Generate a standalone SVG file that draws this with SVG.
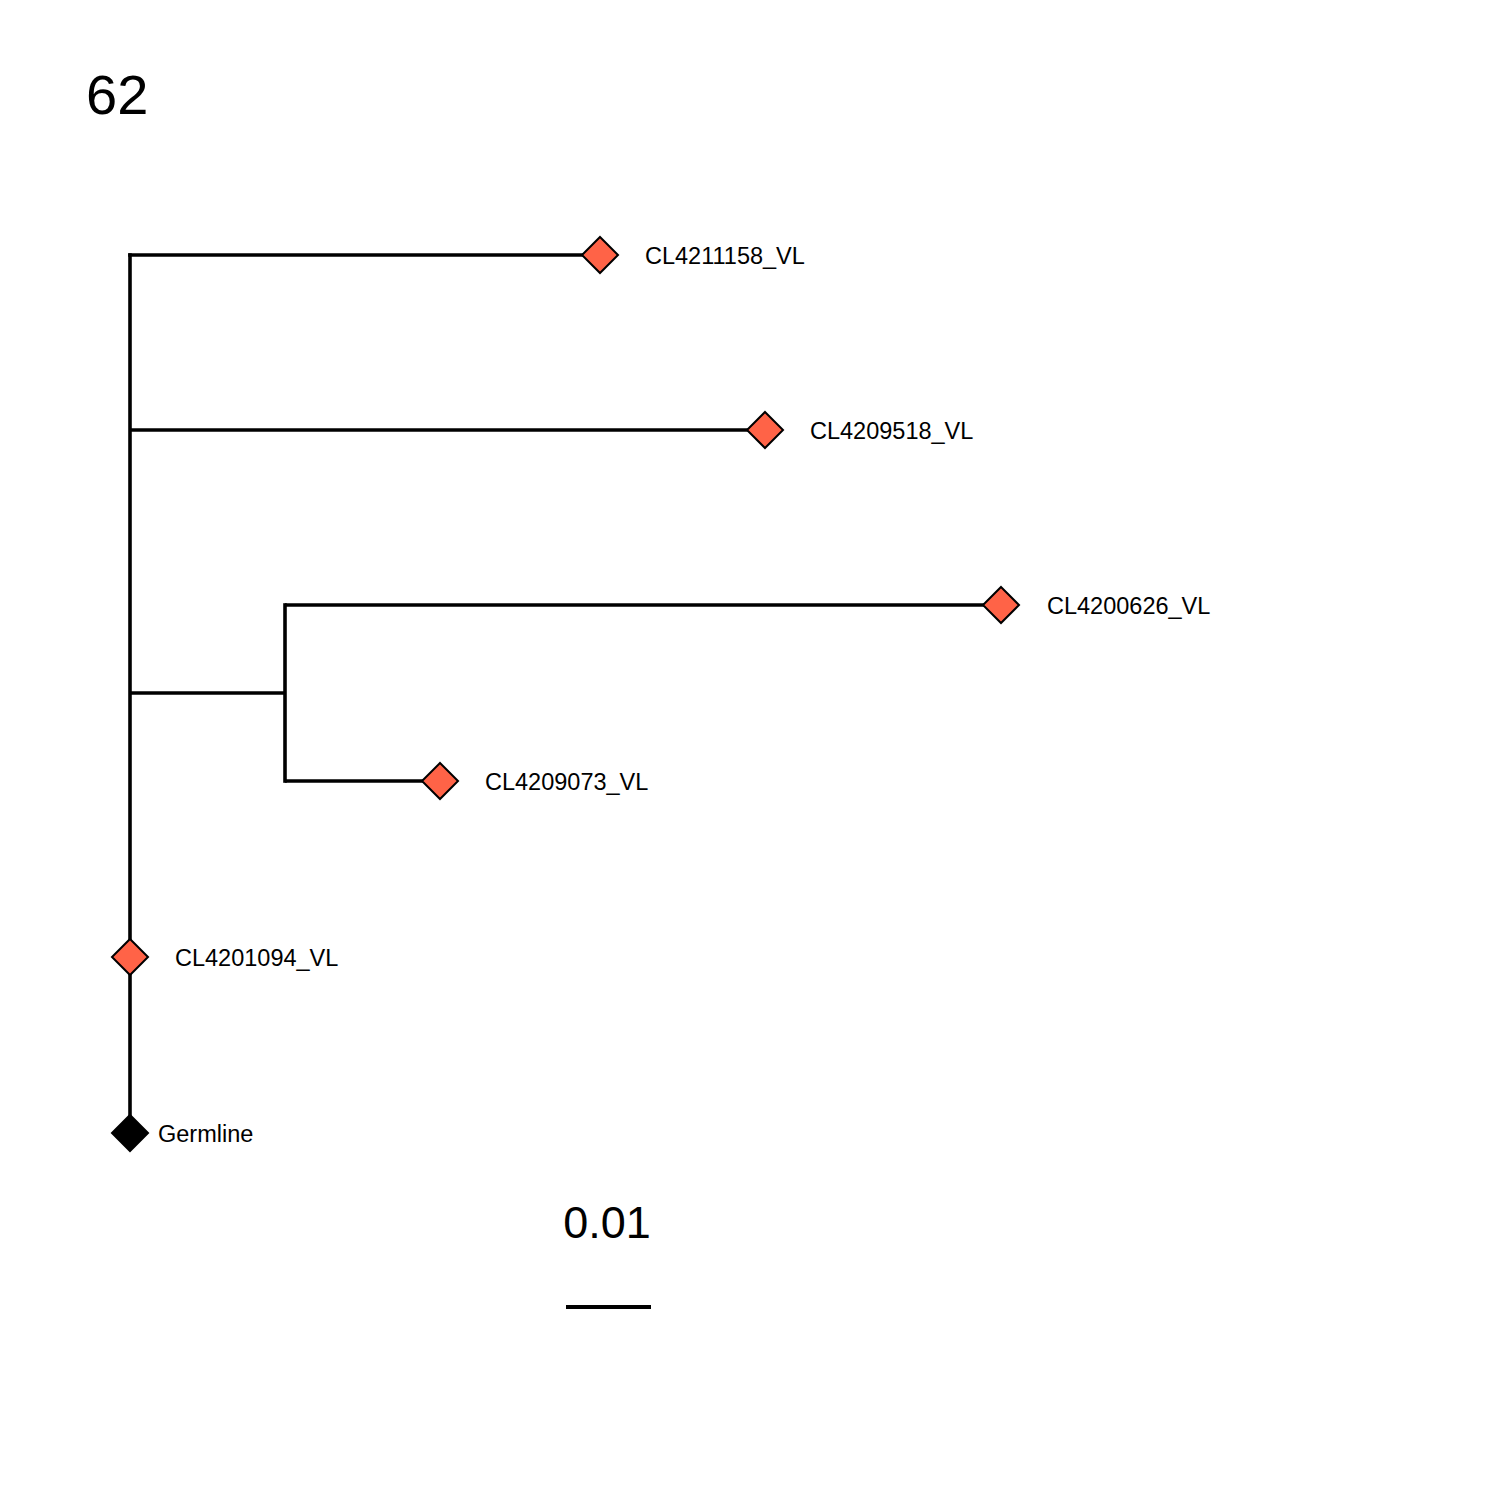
<svg xmlns="http://www.w3.org/2000/svg" width="1500" height="1500" viewBox="0 0 1500 1500">
<style>
.e{stroke:#000;stroke-width:3.6;fill:none;stroke-linecap:butt}
.tip{fill:#FF6347;stroke:#000;stroke-width:2}
.lbl{font-family:"Liberation Sans",Arial,sans-serif;font-size:23.5px;fill:#000}
</style>
<rect width="1500" height="1500" fill="#fff"/>
<text x="86" y="114" style="font-family:'Liberation Sans',Arial,sans-serif;font-size:56px">62</text>
<g id="edges">
<path class="e" d="M130,253.2V1133"/>
<path class="e" d="M128.2,255H600"/>
<path class="e" d="M130,430H765"/>
<path class="e" d="M130,693H285"/>
<path class="e" d="M285,603.2V782.8"/>
<path class="e" d="M285,605H1001"/>
<path class="e" d="M285,781H440"/>
</g>
<g id="n1"><path class="tip" d="M600,237L618,255L600,273L582,255Z"/><text class="lbl" x="645" y="264">CL4211158_VL</text></g>
<g id="n2"><path class="tip" d="M765,412L783,430L765,448L747,430Z"/><text class="lbl" x="810" y="439">CL4209518_VL</text></g>
<g id="n3"><path class="tip" d="M1001,587L1019,605L1001,623L983,605Z"/><text class="lbl" x="1047" y="614">CL4200626_VL</text></g>
<g id="n4"><path class="tip" d="M440,763L458,781L440,799L422,781Z"/><text class="lbl" x="485" y="790">CL4209073_VL</text></g>
<g id="n5"><path class="tip" d="M130,939L148,957L130,975L112,957Z"/><text class="lbl" x="175" y="966">CL4201094_VL</text></g>
<g id="germline"><path d="M130,1115L148,1133L130,1151L112,1133Z" fill="#000" stroke="#000" stroke-width="2"/><text class="lbl" x="158" y="1142">Germline</text></g>
<g id="scale">
<text x="607" y="1238" text-anchor="middle" style="font-family:'Liberation Sans',Arial,sans-serif;font-size:45px">0.01</text>
<path d="M566,1307H651" stroke="#000" stroke-width="4"/>
</g>
</svg>
